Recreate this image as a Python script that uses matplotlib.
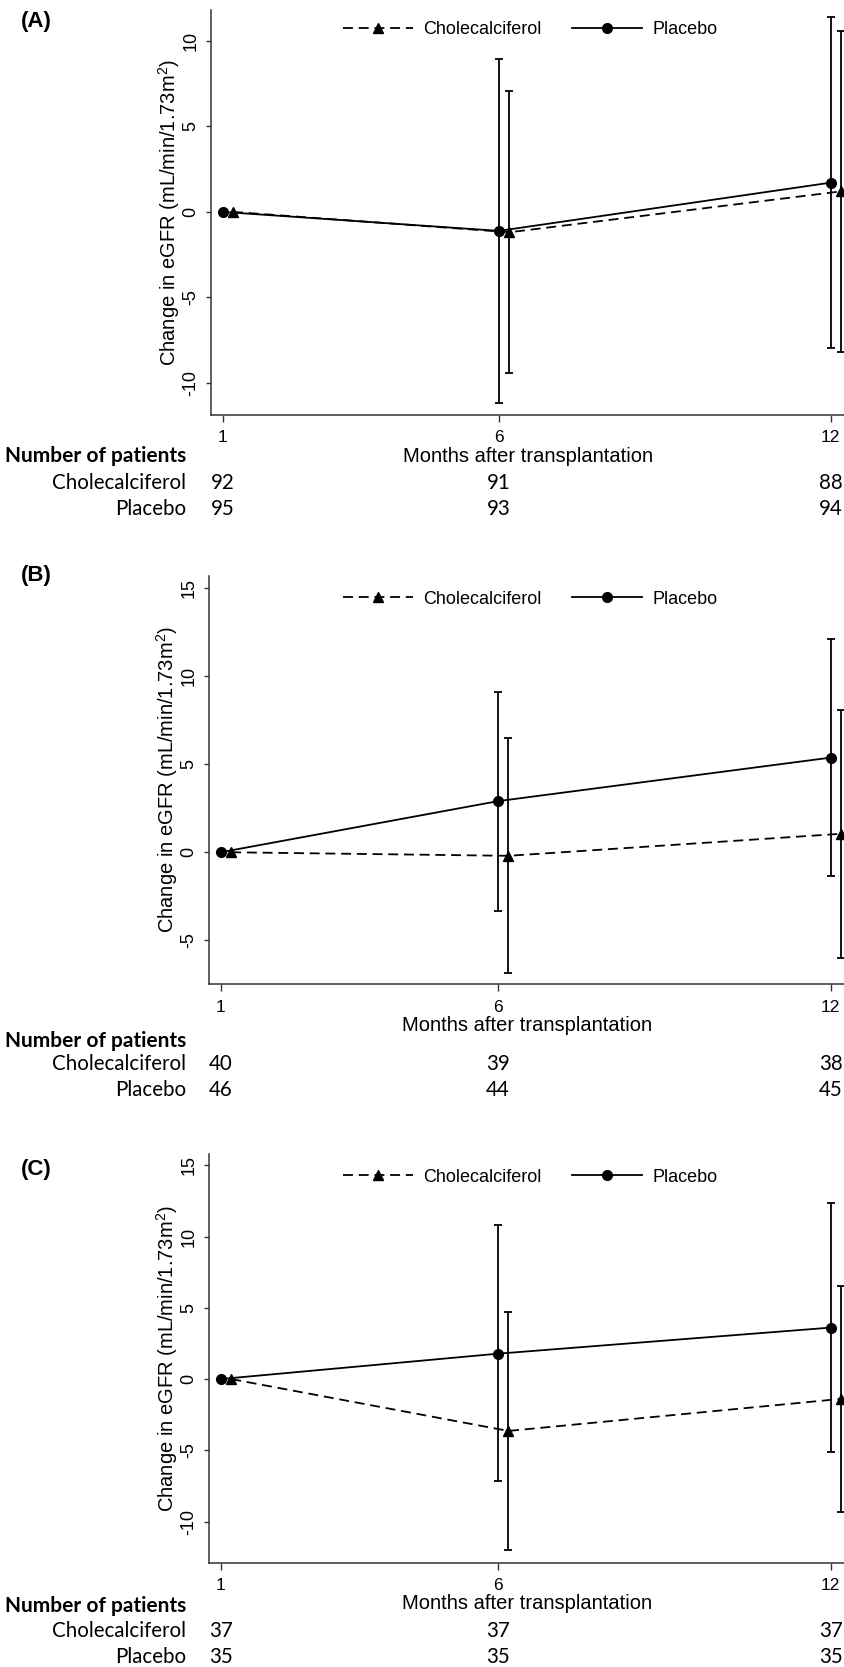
import numpy as np
import matplotlib
matplotlib.use("Agg")
import matplotlib.pyplot as plt
from matplotlib.transforms import blended_transform_factory

# ---------------- data ----------------
months = np.array([1, 6, 12])
tick_labels = ["1", "6", "12"]
series_names = ["Cholecalciferol", "Placebo"]
panel_labels = ["(A)", "(B)", "(C)"]

# Panel A
a_chol = np.array([0.0, -1.19, 1.20])
a_chol_lo = np.array([np.nan, -9.43, -8.17])
a_chol_hi = np.array([np.nan, 7.08, 10.60])
a_plac = np.array([0.0, -1.11, 1.71])
a_plac_lo = np.array([np.nan, -11.15, -7.94])
a_plac_hi = np.array([np.nan, 8.93, 11.42])
a_n_chol = [92, 91, 88]
a_n_plac = [95, 93, 94]

# Panel B
b_chol = np.array([0.0, -0.20, 1.05])
b_chol_lo = np.array([np.nan, -6.85, -5.98])
b_chol_hi = np.array([np.nan, 6.50, 8.08])
b_plac = np.array([0.0, 2.90, 5.37])
b_plac_lo = np.array([np.nan, -3.34, -1.32])
b_plac_hi = np.array([np.nan, 9.10, 12.08])
b_n_chol = [40, 39, 38]
b_n_plac = [46, 44, 45]

# Panel C
c_chol = np.array([0.0, -3.64, -1.39])
c_chol_lo = np.array([np.nan, -12.00, -9.32])
c_chol_hi = np.array([np.nan, 4.67, 6.53])
c_plac = np.array([0.0, 1.78, 3.61])
c_plac_lo = np.array([np.nan, -7.15, -5.09])
c_plac_hi = np.array([np.nan, 10.79, 12.32])
c_n_chol = [37, 37, 37]
c_n_plac = [35, 35, 35]

a_yticks = [-10, -5, 0, 5, 10]
b_yticks = [-5, 0, 5, 10, 15]
c_yticks = [-10, -5, 0, 5, 10, 15]

ylabel = "Change in eGFR (mL/min/1.73m$^{2}$)"
xlabel = "Months after transplantation"
table_title = "Number of patients"

# ---------------- layout / style ----------------
W, H = 845, 1667
plt.rcParams["axes.unicode_minus"] = False
SANS = "Liberation Sans"
TABLE = "Lato"
plt.rcParams["font.family"] = [SANS, "DejaVu Sans"]
plt.rcParams["mathtext.fontset"] = "custom"
plt.rcParams["mathtext.rm"] = SANS

fig = plt.figure(figsize=(W / 100, H / 100), dpi=100)

panels = [
    dict(data=(a_chol, a_chol_lo, a_chol_hi, a_plac, a_plac_lo, a_plac_hi),
         n=(a_n_chol, a_n_plac), yticks=a_yticks, ylim=(-11.87, 11.8),
         left=211, top=10, bottom=415, letter_y=22, legend_y=29.5,
         table_base=(462.5, 489.0, 515.0)),
    dict(data=(b_chol, b_chol_lo, b_chol_hi, b_plac, b_plac_lo, b_plac_hi),
         n=(b_n_chol, b_n_plac), yticks=b_yticks, ylim=(-7.5, 15.7),
         left=209, top=575.5, bottom=984.5, letter_y=575, legend_y=599.3,
         table_base=(1046.7, 1069.5, 1096.0)),
    dict(data=(c_chol, c_chol_lo, c_chol_hi, c_plac, c_plac_lo, c_plac_hi),
         n=(c_n_chol, c_n_plac), yticks=c_yticks, ylim=(-12.87, 15.79),
         left=209, top=1154, bottom=1562.5, letter_y=1169, legend_y=1177.3,
         table_base=(1611.7, 1636.7, 1663.3)),
]

OFFSET = 0.19
LW = 1.3
DASH = (0, (5.5, 3.2))
TABLE_SIZE = 14.8
TITLE_SIZE = 15.0

for k, p in enumerate(panels):
    chol, chol_lo, chol_hi, plac, plac_lo, plac_hi = p["data"]
    ax = fig.add_axes([p["left"] / W, 1 - p["bottom"] / H,
                       1 - p["left"] / W, (p["bottom"] - p["top"]) / H])
    xc = months + OFFSET
    xp = months.astype(float)

    for x, y, lo, hi in ((xp, plac, plac_lo, plac_hi), (xc, chol, chol_lo, chol_hi)):
        m = ~np.isnan(lo)
        ax.errorbar(x[m], y[m], yerr=[y[m] - lo[m], hi[m] - y[m]], fmt="none",
                    ecolor="black", elinewidth=LW, capsize=2.9, capthick=LW, zorder=2)

    l_chol, = ax.plot(xc, chol, color="black", lw=LW, linestyle=DASH,
                      marker="^", markersize=7.5, zorder=3, label=series_names[0])
    l_plac, = ax.plot(xp, plac, color="black", lw=LW, linestyle="-",
                      marker="o", markersize=7, zorder=4, label=series_names[1])

    ax.set_xlim(0.79, 12.26)
    ax.set_ylim(*p["ylim"])
    ax.set_xticks(months)
    ax.set_xticklabels(tick_labels)
    ax.set_yticks(p["yticks"])
    ax.set_yticklabels([str(t) for t in p["yticks"]])
    for s in ("top", "right"):
        ax.spines[s].set_visible(False)
    for s in ("left", "bottom"):
        ax.spines[s].set_color("#333333")
        ax.spines[s].set_linewidth(1.1)
    ax.tick_params(axis="x", length=4.8, width=1.0, color="#333333", pad=6,
                   labelsize=12.5)
    ax.tick_params(axis="y", length=3.6, width=1.0, color="#333333", pad=4.5,
                   labelsize=13)
    for t in ax.get_yticklabels():
        t.set_rotation(90)
        t.set_va("center")
        t.set_ha("right")
    ax.set_ylabel(ylabel, fontsize=14.5, labelpad=0.5)
    ax.set_xlabel(xlabel, fontsize=14.5, labelpad=1.3)

    leg_x = 530
    ax.legend(handles=[l_chol, l_plac], ncol=2, frameon=False, loc="center",
              bbox_to_anchor=(leg_x / W, 1 - p["legend_y"] / H),
              bbox_transform=fig.transFigure, handlelength=3.9,
              handletextpad=0.55, columnspacing=1.7, numpoints=1,
              borderpad=0, prop={"family": SANS, "size": 13})

    fig.text(21 / W, 1 - p["letter_y"] / H, panel_labels[k], ha="left",
             va="center", fontsize=16, fontweight="bold", family=SANS)

    # number-at-risk table
    b0, b1, b2 = p["table_base"]
    fig.text(186 / W, 1 - b0 / H, table_title, ha="right", va="baseline",
             family=TABLE, fontweight="bold", fontsize=TITLE_SIZE)
    fig.text(186 / W, 1 - b1 / H, series_names[0], ha="right", va="baseline",
             family=TABLE, fontsize=TABLE_SIZE)
    fig.text(186 / W, 1 - b2 / H, series_names[1], ha="right", va="baseline",
             family=TABLE, fontsize=TABLE_SIZE)
    T = blended_transform_factory(ax.transData, fig.transFigure)
    n_chol, n_plac = p["n"]
    for m, nc, npl in zip(months, n_chol, n_plac):
        ax.text(m, 1 - b1 / H, str(nc), transform=T, ha="center", va="baseline",
                family=TABLE, fontsize=TABLE_SIZE, clip_on=False)
        ax.text(m, 1 - b2 / H, str(npl), transform=T, ha="center", va="baseline",
                family=TABLE, fontsize=TABLE_SIZE, clip_on=False)

fig.savefig("out.png", dpi=100, facecolor="white")
